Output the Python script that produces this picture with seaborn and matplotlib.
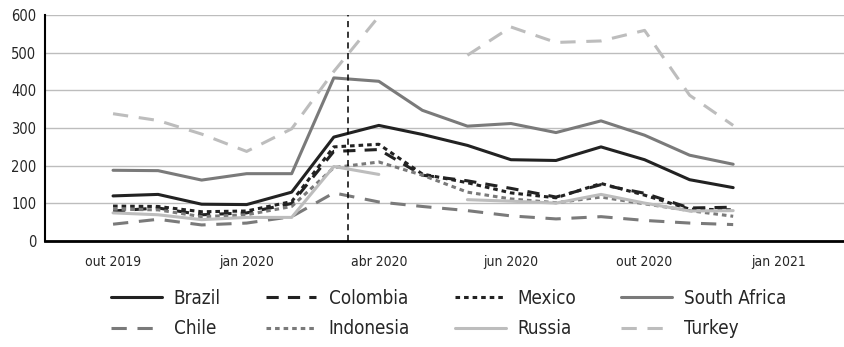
import numpy as np
import pandas as pd
import matplotlib.pyplot as plt
import seaborn as sns

months = pd.date_range("2019-10-01", periods=15, freq="MS")

brazil = [120, 124, 98, 97, 130, 276, 307, 283, 254, 216, 214, 250, 216, 163, 142]
colombia = [80, 88, 70, 75, 100, 238, 243, 175, 160, 140, 117, 150, 127, 88, 90]
mexico = [93, 92, 78, 80, 105, 250, 257, 178, 155, 128, 115, 153, 122, 85, 83]
south_africa = [188, 187, 162, 179, 179, 433, 424, 347, 305, 312, 288, 319, 281, 228, 204]
chile = [45, 58, 43, 48, 65, 128, 104, 92, 81, 67, 59, 65, 55, 48, 44]
indonesia = [85, 83, 65, 70, 92, 195, 210, 175, 130, 112, 102, 117, 99, 81, 66]
russia = [75, 70, 57, 63, 63, 198, 177, np.nan, 110, 106, 101, 124, 101, 80, 81]
turkey = [338, 320, 284, 238, 298, 450, 596, np.nan, 493, 568, 527, 531, 559, 387, 307]

tick_dates = pd.to_datetime(["2019-10-01", "2020-01-01", "2020-04-01",
                             "2020-07-01", "2020-10-01", "2021-01-01"])
tick_labels = ["out 2019", "jan 2020", "abr 2020", "jun 2020", "out 2020", "jan 2021"]
pandemic_date = pd.Timestamp("2020-03-11")

series = [
    ("Brazil", brazil, "#222222", "-"),
    ("Colombia", colombia, "#222222", (0, (4, 3))),
    ("Mexico", mexico, "#222222", (0, (1.5, 1.3))),
    ("South Africa", south_africa, "#7a7a7a", "-"),
    ("Chile", chile, "#7a7a7a", (0, (5, 3.5))),
    ("Indonesia", indonesia, "#7a7a7a", (0, (1.5, 1.3))),
    ("Russia", russia, "#bdbdbd", "-"),
    ("Turkey", turkey, "#bdbdbd", (0, (5, 3.5))),
]

sns.set_style("white")
plt.rcParams["font.family"] = ["DejaVu Sans"]
plt.rcParams["font.stretch"] = "condensed"

fig = plt.figure(figsize=(8.45, 3.47), dpi=100)
ax = fig.add_axes([0.053, 0.305, 0.947, 0.652])

for name, vals, col, ls in series:
    s = pd.Series(vals, index=months)
    # split on gaps so missing months stay blank
    grp = s.isna().cumsum()
    first = True
    for _, part in s.dropna().groupby(grp[s.notna()]):
        sns.lineplot(x=part.index, y=part.values, ax=ax, color=col, linewidth=2.2,
                     linestyle=ls, label=name if first else None, legend=False)
        first = False

ax.axvline(pandemic_date, color="black", linewidth=1.1, linestyle=(0, (4, 3)))

ax.set_ylim(0, 600)
ax.set_yticks(range(0, 601, 100))
ax.set_xlim(pd.Timestamp("2019-08-15"), pd.Timestamp("2021-02-16"))
ax.set_xticks(tick_dates)
ax.set_xticklabels(tick_labels)
ax.tick_params(axis="x", labelsize=10, length=0, pad=10)
ax.tick_params(axis="y", labelsize=10.5, length=0, pad=6)
ax.yaxis.grid(True, color="#bdbdbd", linewidth=1.0)
ax.set_xlabel("")
ax.set_ylabel("")
for sp in ["top", "right"]:
    ax.spines[sp].set_visible(False)
ax.spines["left"].set_color("black")
ax.spines["left"].set_linewidth(1.5)
ax.spines["bottom"].set_color("black")
ax.spines["bottom"].set_linewidth(2.0)

handles, labels = ax.get_legend_handles_labels()
# fill legend row by row
order = [0, 4, 1, 5, 2, 6, 3, 7]
fig.legend([handles[i] for i in order], [labels[i] for i in order],
           loc="upper center", bbox_to_anchor=(0.531, 0.19),
           ncol=4, frameon=False, fontsize=13.5, handlelength=2.7,
           handletextpad=0.65, columnspacing=2.4, labelspacing=0.62,
           borderaxespad=0)

plt.savefig("out.png", dpi=100)
